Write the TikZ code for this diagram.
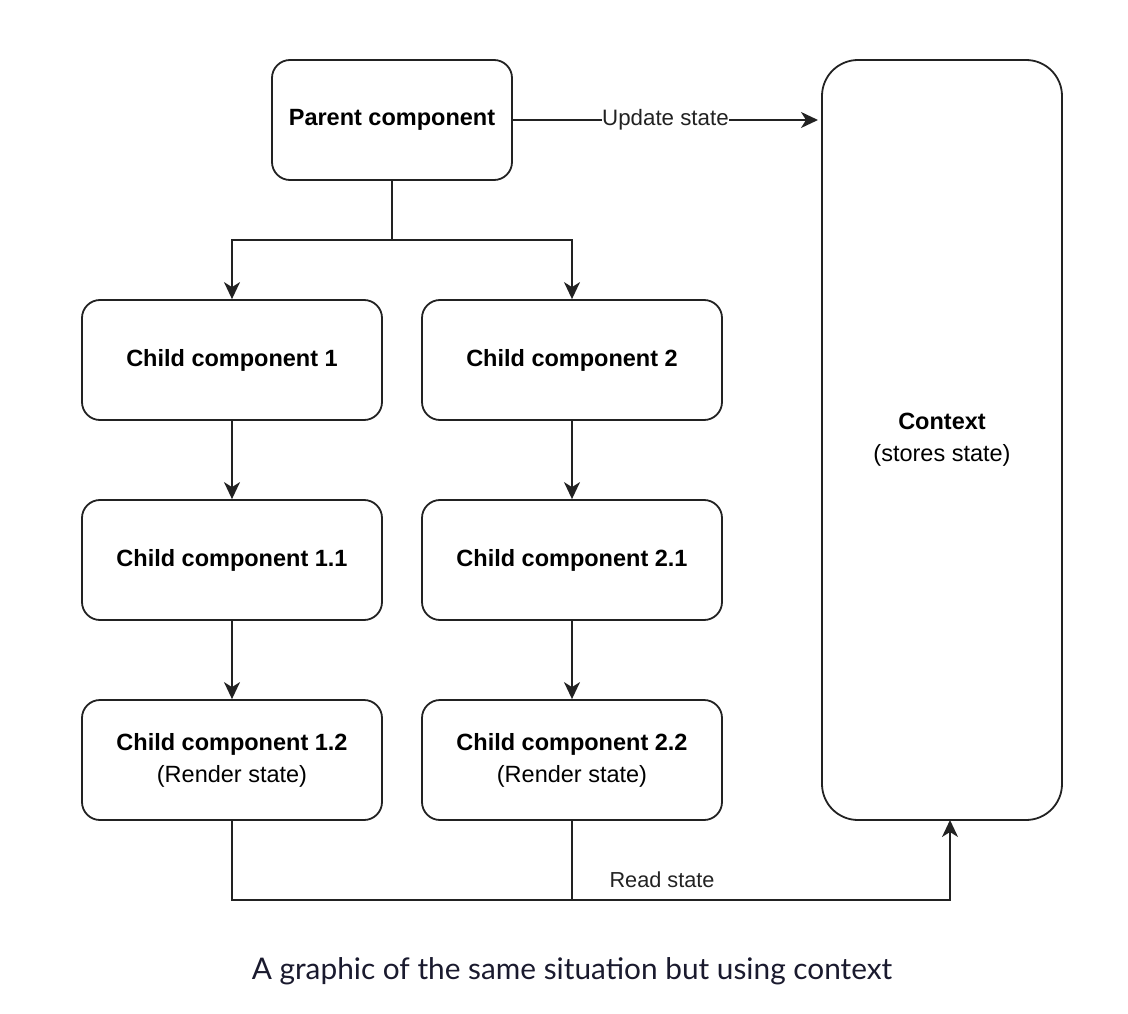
\documentclass[tikz,border=0pt]{standalone}
\usepackage{fontspec}
\setmainfont{Liberation Sans}
\newfontfamily\capfont{Lato}
\usetikzlibrary{arrows.meta}
\definecolor{linec}{HTML}{222222}
\definecolor{capc}{HTML}{1A1A2E}
\tikzset{
  box/.style={draw=linec, line width=1.8pt, rounded corners=18pt, minimum width=240pt, minimum height=120pt, align=center, font=\fontsize{23.5}{32}\selectfont, inner sep=0pt},
  cbox/.style={box, minimum width=300pt},
  conn/.style={draw=linec, line width=1.8pt},
  arr/.style={conn, -{Stealth[length=17pt,width=16pt,inset=5pt]}},
  lbl/.style={font=\fontsize{22.3}{26}\selectfont, text=linec}
}
\begin{document}
\begin{tikzpicture}[x=1pt,y=-1pt]
\useasboundingbox (0,0) rectangle (1128,1014);
\node[box] (parent) at (392,120) {\textbf{Parent component}};
\node[box, minimum height=760pt, rounded corners=36pt] (ctx) at (942,440) {\textbf{Context}\\(stores state)};
\node[cbox] (c1) at (232,360) {\textbf{Child component 1}};
\node[cbox] (c2) at (572,360) {\textbf{Child component 2}};
\node[cbox] (c11) at (232,560) {\textbf{Child component 1.1}};
\node[cbox] (c21) at (572,560) {\textbf{Child component 2.1}};
\node[cbox] (c12) at (232,760) {\textbf{Child component 1.2}\\(Render state)};
\node[cbox] (c22) at (572,760) {\textbf{Child component 2.2}\\(Render state)};
\coordinate (split) at (392,240);
\coordinate (join) at (572,900);
\coordinate (rs) at (950,900);
\coordinate (ctxin) at (950,820);
\coordinate (ua) at (818,120);
\draw[arr] (parent.east) -- node[lbl, fill=white, inner sep=0.5pt] {Update state} (ua);
\draw[conn] (parent.south) -- (split);
\draw[arr] (split) -| (c1.north);
\draw[arr] (split) -| (c2.north);
\draw[arr] (c1.south) -- (c11.north);
\draw[arr] (c2.south) -- (c21.north);
\draw[arr] (c11.south) -- (c12.north);
\draw[arr] (c21.south) -- (c22.north);
\draw[conn] (c22.south) -- (join);
\draw[arr] (c12.south) |- (rs) -- (ctxin);
\node[lbl, font=\fontsize{21.7}{26}\selectfont, anchor=base] (rslbl) at (662,887) {Read state};
\node[font=\capfont\fontsize{29.8}{34}\selectfont, text=capc, anchor=base] (cap) at (572,979) {A graphic of the same situation but using context};
\end{tikzpicture}
\end{document}
